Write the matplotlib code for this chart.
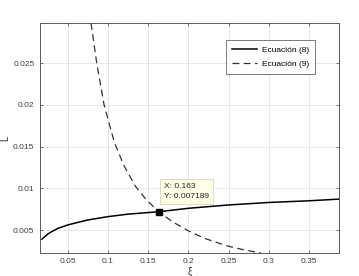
import matplotlib.pyplot as plt

# Ecuación (8)
xi_8 = [0.018, 0.025, 0.03, 0.038, 0.05, 0.062, 0.075, 0.1, 0.125, 0.163, 0.2, 0.25, 0.3, 0.35, 0.387]
L_8 = [0.0039, 0.0045, 0.0048, 0.0052, 0.0056, 0.0059, 0.0062, 0.0066, 0.0069, 0.007189, 0.0076, 0.0080, 0.0083, 0.0085, 0.0087]

# Ecuación (9)
xi_9 = [0.079, 0.0861, 0.0952, 0.108, 0.12, 0.1338, 0.147, 0.163, 0.18, 0.2, 0.22, 0.248, 0.27, 0.29]
L_9 = [0.0298, 0.025, 0.020, 0.0155, 0.0127, 0.0103, 0.0087, 0.007189, 0.0060, 0.0049, 0.0040, 0.0031, 0.0026, 0.00225]

tip_x = 0.163
tip_y = 0.007189

plt.rcParams['font.family'] = ['Liberation Sans', 'DejaVu Sans']

fig = plt.figure(figsize=(3.59, 2.76), dpi=100)
ax = fig.add_axes([0.1114, 0.0844, 0.8326, 0.8323])

ax.plot(xi_8, L_8, color='black', lw=1.1, label='Ecuación (8)')
ax.plot(xi_9, L_9, color='#333333', lw=0.9, dashes=(5.5, 3.5), label='Ecuación (9)')

ax.plot([tip_x], [tip_y], marker='s', color='black', ms=5, zorder=5)
ax.annotate(f'X: {tip_x}\nY: {tip_y}', xy=(tip_x, tip_y), xytext=(4, 10),
			textcoords='offset points', fontsize=6, color='#222222', linespacing=1.6,
			bbox=dict(boxstyle='square,pad=0.45', fc='#ffffe6', ec='#d8d8c0', lw=0.6), zorder=6)

ax.set_xlim(0.0156, 0.387)
ax.set_ylim(0.00228, 0.0298)
ax.set_xticks([0.05, 0.1, 0.15, 0.2, 0.25, 0.3, 0.35])
ax.set_xticklabels(['0.05', '0.1', '0.15', '0.2', '0.25', '0.3', '0.35'])
ax.set_yticks([0.005, 0.01, 0.015, 0.02, 0.025])
ax.set_yticklabels(['0.005', '0.01', '0.015', '0.02', '0.025'])

ax.grid(True, color='#e3e3e3', lw=0.6)
ax.set_axisbelow(True)
ax.tick_params(direction='in', length=2.5, width=0.5, labelsize=6, colors='#404040',
			   top=True, right=True, pad=4)
for s in ax.spines.values():
	s.set_color('#5a5a5a')
	s.set_linewidth(0.7)

ax.set_ylabel('L', fontsize=7, color='#303030')
ax.yaxis.set_label_coords(-0.1, 0.5)
ax.set_xlabel('ξ', fontsize=7, color='#303030', labelpad=1)

leg = ax.legend(loc='upper right', bbox_to_anchor=(0.92, 0.926), borderaxespad=0, fontsize=6,
				frameon=True, fancybox=False, edgecolor='#404040', handlelength=3.0,
				handletextpad=0.6, borderpad=0.7, labelspacing=0.8)
leg.get_frame().set_linewidth(0.6)

fig.savefig('out.png', dpi=100, facecolor='white')
